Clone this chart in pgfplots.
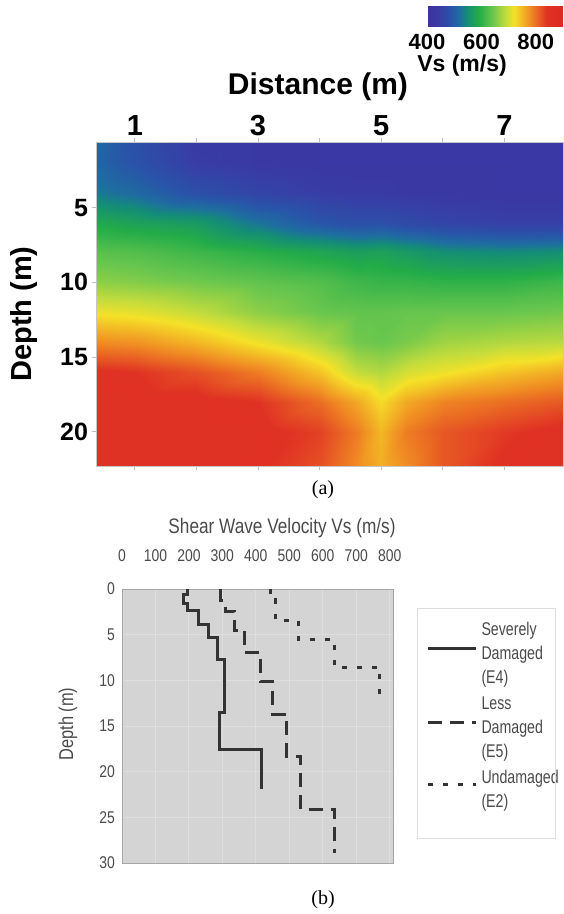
\documentclass[border=0pt]{standalone}
\usepackage{fontspec}
\setmainfont{Liberation Sans}
\newfontfamily\serifx{Liberation Serif}
\newfontfamily\nsf[FakeStretch=0.82]{Liberation Sans}
\newfontfamily\nsfl[FakeStretch=0.77]{Liberation Sans}
\usepackage{pgfplots}
\pgfplotsset{compat=1.18}
\usepackage{pgfplotstable}

\definecolor{bgray}{HTML}{D4D4D4}
\definecolor{ggray}{HTML}{DEDEDE}
\definecolor{tgray}{HTML}{4A4A4A}
\definecolor{lgray}{HTML}{333333}

\pgfplotsset{
  colormap={vs}{rgb255(400)=(60,52,160) rgb255(440)=(58,58,165) rgb255(490)=(40,85,168)
    rgb255(520)=(30,110,160) rgb255(545)=(20,140,120) rgb255(590)=(35,172,72)
    rgb255(640)=(105,198,78) rgb255(690)=(195,220,60) rgb255(720)=(245,225,40)
    rgb255(780)=(240,140,35) rgb255(840)=(224,50,36) rgb255(900)=(220,42,35)},
}

% Vs section (m/s); one scanline per depth
\pgfplotstableread{
x y v
0.37 0.6 515
1 0.6 480
2 0.6 440
3 0.6 435
4 0.6 430
4.6 0.6 430
5 0.6 430
5.4 0.6 430
6 0.6 430
7 0.6 430
7.95 0.6 430
0.37 2 510
1 2 485
2 2 445
3 2 435
4 2 430
4.6 2 430
5 2 430
5.4 2 430
6 2 430
7 2 430
7.95 2 430
0.37 4 530
1 4 515
2 4 480
3 4 460
4 4 445
4.6 4 440
5 4 440
5.4 4 435
6 4 432
7 4 430
7.95 4 430
0.37 6 585
1 6 575
2 6 565
3 6 525
4 6 490
4.6 6 478
5 6 480
5.4 6 470
6 6 460
7 6 450
7.95 6 450
0.37 8 630
1 8 625
2 8 610
3 8 595
4 8 580
4.6 8 570
5 8 575
5.4 8 565
6 8 550
7 8 545
7.95 8 550
0.37 10 660
1 10 655
2 10 645
3 10 635
4 10 625
4.6 10 610
5 10 605
5.4 10 605
6 10 600
7 10 600
7.95 10 610
0.37 12 715
1 12 710
2 12 690
3 12 660
4 12 640
4.6 12 635
5 12 635
5.4 12 638
6 12 640
7 12 640
7.95 12 645
0.37 14 780
1 14 775
2 14 750
3 14 715
4 14 680
4.6 14 645
5 14 640
5.4 14 650
6 14 670
7 14 680
7.95 14 685
0.37 16 845
1 16 840
2 16 820
3 16 790
4 16 740
4.6 16 690
5 16 680
5.4 16 700
6 16 715
7 16 740
7.95 16 760
0.37 18 850
1 18 850
2 18 850
3 18 840
4 18 800
4.6 18 760
5 18 725
5.4 18 760
6 18 785
7 18 800
7.95 18 815
0.37 20 850
1 20 850
2 20 850
3 20 850
4 20 830
4.6 20 790
5 20 750
5.4 20 790
6 20 815
7 20 835
7.95 20 850
0.37 22.3 850
1 22.3 850
2 22.3 850
3 22.3 845
4 22.3 820
4.6 22.3 780
5 22.3 755
5.4 22.3 780
6 22.3 815
7 22.3 845
7.95 22.3 850
}\vsgrid

\begin{document}
\begin{tikzpicture}
\path[use as bounding box] (0,0) rectangle (281.5pt,-457pt);

% (a) section
\begin{axis}[
  at={(48pt,-233pt)}, anchor=south west,
  scale only axis, width=233.5pt, height=162pt,
  xmin=0.37, xmax=7.95, ymin=0.6, ymax=22.3, y dir=reverse,
  xtick={1,3,5,7}, minor xtick={2,4,6}, ytick={5,10,15,20},
  xticklabel pos=right,
  tick align=outside, major tick length=2pt, minor tick length=2pt,
  tick style={gray!50, thin},
  axis line style={gray!45, thin},
  /pgf/number format/assume math mode=true,
  xticklabel style={font=\bfseries\fontsize{14.5}{14.5}\selectfont, yshift=-2.5pt},
  yticklabel style={font=\bfseries\fontsize{12.5}{12.5}\selectfont, xshift=1.5pt},
  colormap name=vs, point meta min=400, point meta max=900,
  colorbar horizontal,
  colorbar style={
    at={(1,1.355)}, anchor=south east,
    scale only axis, width=68pt, height=10pt,
    xtick={400,600,800},
    /pgf/number format/assume math mode=true,
    xticklabel style={font=\bfseries\fontsize{11}{11}\selectfont},
    major tick length=0pt,
    axis line style={draw=none},
  },
  axis on top,
]
\addplot[surf, shader=interp, mesh/rows=12, mesh/cols=11, point meta=explicit]
  table[x=x, y=y, meta=v] {\vsgrid};
\end{axis}

% (b) profiles
\begin{axis}[
  at={(61pt,-431.5pt)}, anchor=south west,
  scale only axis, width=135.5pt, height=137pt,
  xmin=0, xmax=810, ymin=0, ymax=30, y dir=reverse,
  xtick={0,100,...,800}, ytick={0,5,...,30},
  xticklabel pos=right,
  axis background/.style={fill=bgray},
  grid=major, grid style={ggray, line width=0.5pt},
  major tick length=0pt,
  axis line style={gray!70},
  /pgf/number format/assume math mode=true,
  ticklabel style={font=\nsf\fontsize{8.5}{8.5}\selectfont, text=tgray},
  xticklabel style={yshift=10pt},
  legend style={at={(axis description cs:1.10,0.91)}, anchor=north west,
    draw=none, fill=none, font=\nsfl\fontsize{9.2}{12}\selectfont, text=tgray,
    cells={align=left}, row sep=1pt, column sep=0pt},
  legend cell align=left,
  legend image code/.code={\draw[#1] (0pt,3pt) -- (24pt,3pt);},
]
\addplot[lgray, line width=1.5pt] coordinates {
  (195,0) (195,0.6) (183,0.6) (183,1.6) (195,1.6) (195,2.4) (228,2.4) (228,3.9)
  (258,3.9) (258,5.3) (285,5.3) (285,7.7) (305,7.7) (305,13.5) (292,13.5)
  (292,17.6) (416,17.6) (416,21.9)};
\addlegendentry{Severely\\Damaged\\(E4)}
\addplot[lgray, line width=1.5pt, dash pattern=on 7pt off 4pt] coordinates {
  (295,0) (295,1.3) (308,1.3) (308,2.45) (335,2.45) (335,4.5) (366,4.5) (366,7.0)
  (415,7.0) (415,10.1) (451,10.1) (451,13.7) (492,13.7) (492,18.3) (534,18.3)
  (534,24.1) (635,24.1) (635,28.9)};
\addlegendentry{Less\\Damaged\\(E5)}
\addplot[lgray, line width=1.5pt, dash pattern=on 2.5pt off 5pt] coordinates {
  (443,0) (443,1.2) (458,1.2) (458,3.4) (527,3.4) (527,5.55) (635,5.55) (635,8.55)
  (771,8.55) (771,12.5)};
\addlegendentry{Undamaged\\(E2)}
\end{axis}

\draw[gray!25, thin] (208.5pt,-304pt) rectangle (277.5pt,-419pt);

\node[font=\bfseries\fontsize{15}{15}\selectfont] at (159pt,-43.5pt) {Distance (m)};
\node[font=\bfseries\fontsize{11.5}{11.5}\selectfont] at (231pt,-33pt) {Vs (m/s)};
\node[rotate=90, font=\bfseries\fontsize{14.5}{14.5}\selectfont] at (12pt,-157pt) {Depth (m)};
\node[font=\serifx\fontsize{10}{10}\selectfont] at (161.5pt,-245pt) {(a)};
\node[font=\nsf\fontsize{10.5}{10.5}\selectfont, text=tgray] at (141pt,-264pt) {Shear Wave Velocity Vs (m/s)};
\node[rotate=90, font=\nsf\fontsize{10}{10}\selectfont, text=tgray] at (34pt,-362pt) {Depth (m)};
\node[font=\serifx\fontsize{10}{10}\selectfont] at (161.5pt,-450pt) {(b)};
\end{tikzpicture}
\end{document}
